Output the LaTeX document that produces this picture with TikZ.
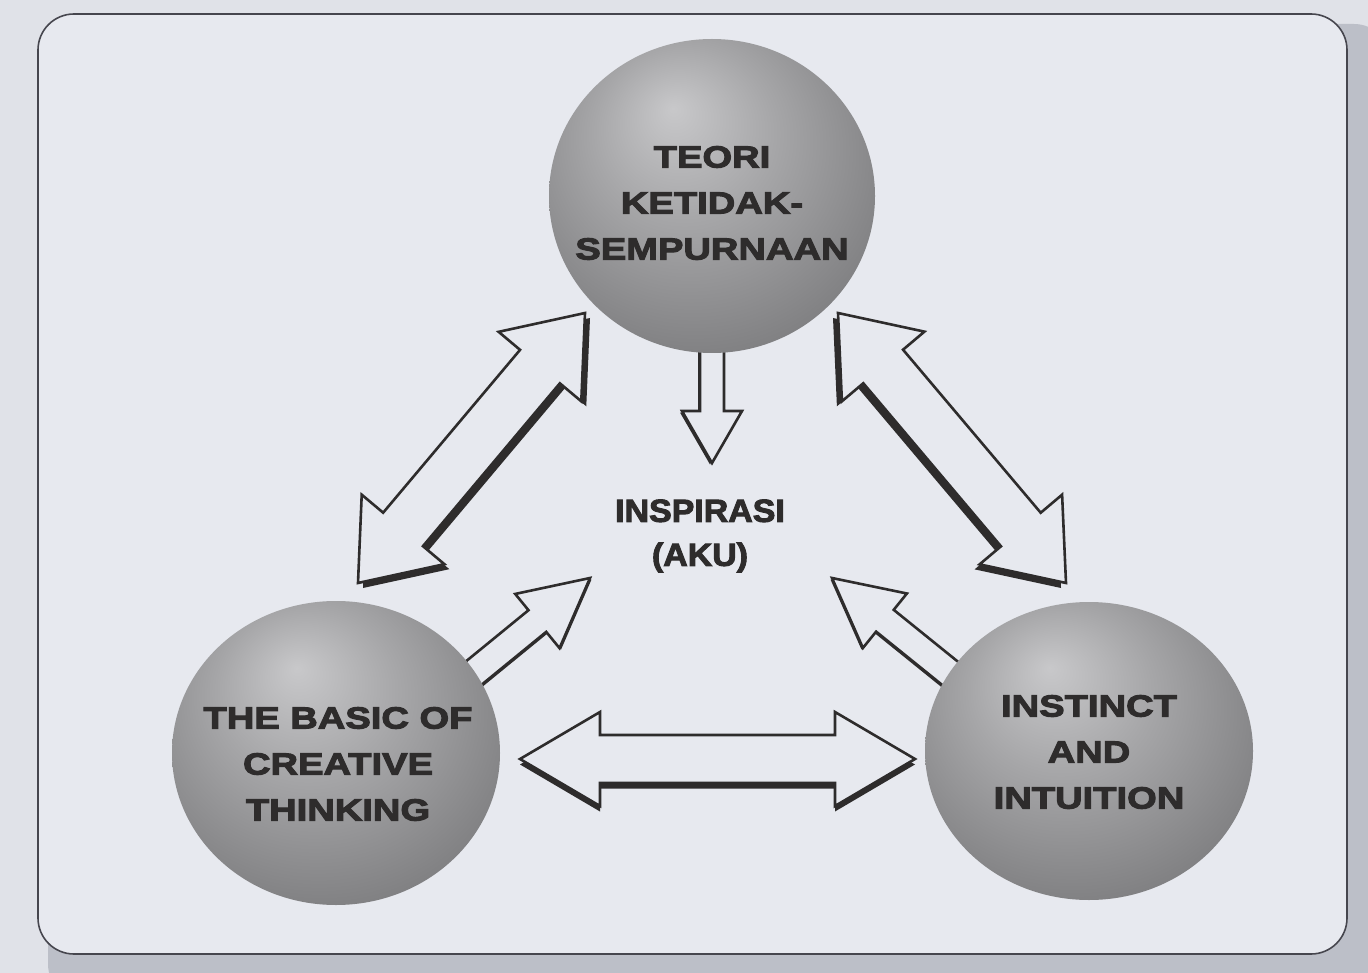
\documentclass[tikz,border=0pt]{standalone}
\usepackage{fontspec}
\usetikzlibrary{calc,shapes.geometric}
\setmainfont{Liberation Sans}
\newfontfamily\sphfont{Liberation Sans}[FakeStretch=1.25, BoldFeatures={FakeBold=3.5}]
\newfontfamily\midfont{Liberation Sans}[FakeStretch=1.06, BoldFeatures={FakeBold=3}]
\definecolor{bgout}{RGB}{224,226,232}
\definecolor{panel}{RGB}{231,233,239}
\definecolor{fshadow}{RGB}{188,191,200}
\definecolor{framecol}{RGB}{70,70,78}
\definecolor{ink}{RGB}{46,44,44}
\definecolor{sphA}{RGB}{200,200,202}
\definecolor{sphB}{RGB}{166,166,168}
\definecolor{sphC}{RGB}{126,126,128}
\definecolor{sphD}{RGB}{92,92,94}
\pgfdeclareradialshading{sphereshade}{\pgfpoint{-6bp}{14bp}}{color(0bp)=(sphA); color(14bp)=(sphB); color(32bp)=(sphC); color(50bp)=(sphD)}

% double arrow: #1 prefix, #2 tip A, #3 tip B, #4 shaft half width, #5 head half width, #6 head length
\newcommand\mkdbl[6]{%
  \coordinate (#1A) at (#2);
  \coordinate (#1B) at (#3);
  \coordinate (#1P) at ($(#2)!#6!(#3)$);
  \coordinate (#1Q) at ($(#3)!#6!(#2)$);
  \coordinate (#1PHL) at ($(#1P)!#5!90:(#3)$);
  \coordinate (#1PwL) at ($(#1P)!#4!90:(#3)$);
  \coordinate (#1PwR) at ($(#1P)!#4!-90:(#3)$);
  \coordinate (#1PHR) at ($(#1P)!#5!-90:(#3)$);
  \coordinate (#1QwL) at ($(#1Q)!#4!-90:(#2)$);
  \coordinate (#1QHL) at ($(#1Q)!#5!-90:(#2)$);
  \coordinate (#1QwR) at ($(#1Q)!#4!90:(#2)$);
  \coordinate (#1QHR) at ($(#1Q)!#5!90:(#2)$);
}
\newcommand\dblpath[1]{(#1A) -- (#1PHL) -- (#1PwL) -- (#1QwL) -- (#1QHL) -- (#1B) -- (#1QHR) -- (#1QwR) -- (#1PwR) -- (#1PHR) -- cycle}
% single arrow: #1 prefix, #2 tail, #3 tip, #4 shaft half width, #5 head half width, #6 head length
\newcommand\mksgl[6]{%
  \coordinate (#1A) at (#2);
  \coordinate (#1B) at (#3);
  \coordinate (#1Q) at ($(#3)!#6!(#2)$);
  \coordinate (#1tL) at ($(#2)!#4!90:(#3)$);
  \coordinate (#1tR) at ($(#2)!#4!-90:(#3)$);
  \coordinate (#1QwL) at ($(#1Q)!#4!-90:(#2)$);
  \coordinate (#1QHL) at ($(#1Q)!#5!-90:(#2)$);
  \coordinate (#1QwR) at ($(#1Q)!#4!90:(#2)$);
  \coordinate (#1QHR) at ($(#1Q)!#5!90:(#2)$);
}
\newcommand\sglpath[1]{(#1tL) -- (#1QwL) -- (#1QHL) -- (#1B) -- (#1QHR) -- (#1QwR) -- (#1tR) -- cycle}

\begin{document}
\begin{tikzpicture}[x=1pt,y=-1pt,
  sphere/.style={ellipse, inner sep=0pt, shading=sphereshade},
  sphtext/.style={align=center, text=ink, inner sep=0pt, font=\sphfont\bfseries\fontsize{30.5}{46}\selectfont},
  midtext/.style={align=center, text=ink, inner sep=0pt, font=\midfont\bfseries\fontsize{32}{44}\selectfont},
  arrowbody/.style={fill=panel, draw=ink, line width=2.6pt, line join=miter},
  arrowshadow/.style={fill=ink}
]
\useasboundingbox (0,0) rectangle (1368,973);
\fill[bgout] (0,0) rectangle (1368,973);
\fill[fshadow, rounded corners=36pt] (48,24) rectangle (1390,1000);
\draw[fill=panel, draw=framecol, line width=1.6pt, rounded corners=36pt] (38,14) rectangle (1347,954);

% arrow end points
\coordinate (tlA) at (585,313);
\coordinate (tlB) at (358,583);
\coordinate (trA) at (838,313);
\coordinate (trB) at (1066,583);
\coordinate (hzA) at (520,759);
\coordinate (hzB) at (915,759);
\coordinate (vtA) at (712,345);
\coordinate (vtB) at (712,463);
\coordinate (blA) at (431,708);
\coordinate (blB) at (590,578);
\coordinate (brA) at (993,708);
\coordinate (brB) at (832,578);

\mkdbl{tl}{tlA}{tlB}{26pt}{54pt}{70pt}
\mkdbl{tr}{trA}{trB}{26pt}{54pt}{70pt}
\mkdbl{hz}{hzA}{hzB}{24pt}{47pt}{80pt}
\mksgl{vt}{vtA}{vtB}{12pt}{30pt}{52pt}
\mksgl{bl}{blA}{blB}{14pt}{35pt}{68pt}
\mksgl{br}{brA}{brB}{14pt}{35pt}{68pt}

\fill[arrowshadow, transform canvas={xshift=5pt, yshift=-5pt}] \dblpath{tl};
\draw[arrowbody] \dblpath{tl};
\fill[arrowshadow, transform canvas={xshift=-5pt, yshift=-5pt}] \dblpath{tr};
\draw[arrowbody] \dblpath{tr};
\fill[arrowshadow, transform canvas={yshift=-5.5pt}] \dblpath{hz};
\draw[arrowbody] \dblpath{hz};
\fill[arrowshadow, transform canvas={xshift=-2pt, yshift=-1.5pt}] \sglpath{vt};
\draw[arrowbody] \sglpath{vt};
\fill[arrowshadow, transform canvas={xshift=1.5pt, yshift=-1.5pt}] \sglpath{bl};
\draw[arrowbody] \sglpath{bl};
\fill[arrowshadow, transform canvas={xshift=-1.5pt, yshift=-1.5pt}] \sglpath{br};
\draw[arrowbody] \sglpath{br};

% spheres
\node[sphere, minimum width=326pt, minimum height=314pt] (teori) at (712,196) {};
\node[sphere, minimum width=328pt, minimum height=304pt] (basic) at (336,753) {};
\node[sphere, minimum width=328pt, minimum height=298pt] (inst) at (1089,751) {};

\node[sphtext] (teorit) at (712,203) {TEORI\\KETIDAK-\\SEMPURNAAN};
\node[sphtext] (basict) at (338,764) {THE BASIC OF\\CREATIVE\\THINKING};
\node[sphtext] (instt) at (1089,752) {INSTINCT\\AND\\INTUITION};

\node[midtext] (insp) at (700,536) {INSPIRASI\\(AKU)};
\end{tikzpicture}
\end{document}
